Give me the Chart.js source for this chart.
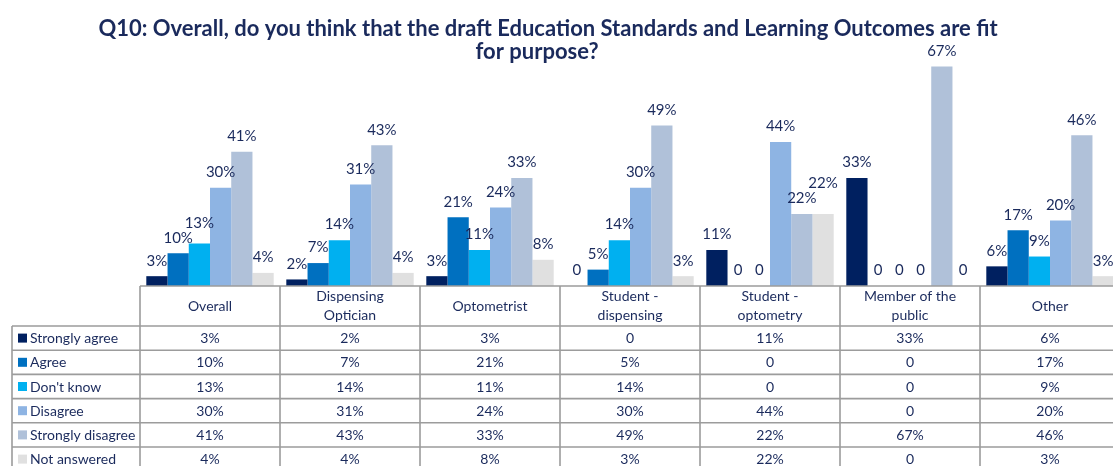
<!DOCTYPE html>
<html>
<head>
<meta charset="utf-8">
<title>Q10 fit for purpose</title>
<script src="https://cdn.jsdelivr.net/npm/chart.js@4"></script>
<style>
  html, body { margin: 0; padding: 0; background: #fff; overflow: hidden; }
  #chart { display: block; }
</style>
</head>
<body>
<canvas id="chart" width="1125" height="466"></canvas>
<script>
const titleLines = [
  'Q10: Overall, do you think that the draft Education Standards and Learning Outcomes are fit',
  'for purpose?'
];
const categories = [
  'Overall',
  ['Dispensing', 'Optician'],
  'Optometrist',
  ['Student -', 'dispensing'],
  ['Student -', 'optometry'],
  ['Member of the', 'public'],
  'Other'
];
const seriesNames = ['Strongly agree', 'Agree', "Don't know", 'Disagree', 'Strongly disagree', 'Not answered'];
const stronglyAgree    = [3, 2, 3, 0, 11, 33, 6];
const agree            = [10, 7, 21, 5, 0, 0, 17];
const dontKnow         = [13, 14, 11, 14, 0, 0, 9];
const disagree         = [30, 31, 24, 30, 44, 0, 20];
const stronglyDisagree = [41, 43, 33, 49, 22, 67, 46];
const notAnswered      = [4, 4, 8, 3, 22, 0, 3];
const seriesColors = ['#002060', '#0070c0', '#00b0f0', '#8eb4e3', '#b0c1d9', '#e0e0e0'];

const textColor = '#1a2a5c';
const fontFamily = 'Lato, "Open Sans", sans-serif';

document.addEventListener('DOMContentLoaded', function () {
  const ctx = document.getElementById('chart').getContext('2d');
  const allSeries = [stronglyAgree, agree, dontKnow, disagree, stronglyDisagree, notAnswered];

  function fmt(v) {
    return v === 0 ? '0' : v + '%';
  }

  // title drawn at fixed spot (centered on the page, not on the plot)
  const titlePlugin = {
    id: 'titleText',
    afterDraw(chart) {
      const c = chart.ctx;
      c.save();
      c.fillStyle = textColor;
      c.font = 'bold 22px ' + fontFamily;
      c.textAlign = 'center';
      c.textBaseline = 'middle';
      c.fillText(titleLines[0], 548, 29);
      c.fillText(titleLines[1], 537, 52);
      c.restore();
    }
  };

  // value labels above bars, pushed up when they collide
  const labelPlugin = {
    id: 'barLabels',
    afterDatasetsDraw(chart) {
      const c = chart.ctx;
      c.save();
      c.font = '15px ' + fontFamily;
      c.fillStyle = textColor;
      c.textAlign = 'center';
      c.textBaseline = 'bottom';
      for (let i = 0; i < categories.length; i++) {
        const placed = [];
        chart.data.datasets.forEach((ds, d) => {
          const bar = chart.getDatasetMeta(d).data[i];
          const text = fmt(ds.data[i]);
          const w = c.measureText(text).width;
          let bottom = bar.y - 8;
          let moved = true;
          while (moved) {
            moved = false;
            for (const p of placed) {
              const hOver = bar.x - w / 2 < p.x2 && bar.x + w / 2 > p.x1;
              const vOver = bottom - 14 < p.bottom && bottom > p.bottom - 14;
              if (hOver && vOver) {
                bottom = p.bottom - 15;
                moved = true;
              }
            }
          }
          placed.push({ x1: bar.x - w / 2, x2: bar.x + w / 2, bottom: bottom });
          c.fillText(text, bar.x, bottom);
        });
      }
      c.restore();
    }
  };

  // data table under the plot, columns taken from the x scale
  const tablePlugin = {
    id: 'dataTable',
    afterDraw(chart) {
      const c = chart.ctx;
      const xs = chart.scales.x;
      const area = chart.chartArea;
      const top = area.bottom;
      const headH = 40;
      const rowH = 24.2;
      const legendLeft = 12;
      const half = (xs.getPixelForValue(1) - xs.getPixelForValue(0)) / 2;
      const edges = [];
      for (let i = 0; i < categories.length; i++) edges.push(xs.getPixelForValue(i) - half);
      edges.push(xs.getPixelForValue(categories.length - 1) + half);
      const right = edges[edges.length - 1];
      const bottom = top + headH + rowH * seriesNames.length;

      c.save();
      c.strokeStyle = '#9c9c9c';
      c.lineWidth = 1.6;
      c.beginPath();
      c.moveTo(edges[0], top);
      c.lineTo(right, top);
      for (let r = 0; r <= seriesNames.length; r++) {
        const y = top + headH + r * rowH;
        c.moveTo(legendLeft, y);
        c.lineTo(right, y);
      }
      c.moveTo(legendLeft, top + headH);
      c.lineTo(legendLeft, bottom);
      edges.forEach(x => {
        c.moveTo(x, top);
        c.lineTo(x, bottom);
      });
      c.stroke();

      c.fillStyle = textColor;
      c.font = '14px ' + fontFamily;
      c.textAlign = 'center';
      c.textBaseline = 'middle';
      categories.forEach((cat, i) => {
        const x = xs.getPixelForValue(i);
        const lines = Array.isArray(cat) ? cat : [cat];
        const mid = top + headH / 2;
        lines.forEach((ln, k) => {
          c.fillText(ln, x, mid + (k - (lines.length - 1) / 2) * 19);
        });
      });

      seriesNames.forEach((name, r) => {
        const yMid = top + headH + r * rowH + rowH / 2;
        c.fillStyle = seriesColors[r];
        c.fillRect(18, yMid - 4.5, 9, 9);
        c.fillStyle = textColor;
        c.textAlign = 'left';
        c.fillText(name, 30, yMid + 0.5);
        c.textAlign = 'center';
        allSeries[r].forEach((v, i) => {
          c.fillText(fmt(v), xs.getPixelForValue(i), yMid + 0.5);
        });
      });
      c.restore();
    }
  };

  new Chart(ctx, {
    type: 'bar',
    data: {
      labels: categories,
      datasets: seriesNames.map((name, d) => ({
        label: name,
        data: allSeries[d],
        backgroundColor: seriesColors[d],
        borderWidth: 0,
        categoryPercentage: 0.91,
        barPercentage: 1.0
      }))
    },
    options: {
      responsive: false,
      animation: false,
      devicePixelRatio: 1,
      layout: { padding: { left: 140, right: 5, top: 60, bottom: 180 } },
      scales: {
        x: { display: false },
        y: { display: false, min: 0, max: 69 }
      },
      plugins: {
        legend: { display: false },
        title: { display: false },
        tooltip: { enabled: false }
      }
    },
    plugins: [titlePlugin, labelPlugin, tablePlugin]
  });
});
</script>
</body>
</html>
